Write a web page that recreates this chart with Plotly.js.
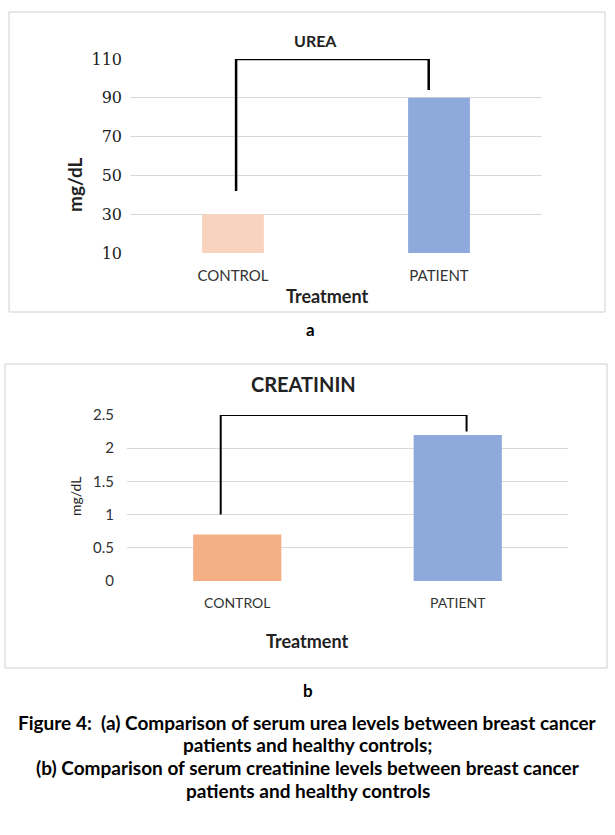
<!DOCTYPE html>
<html><head><meta charset="utf-8">
<script src="https://cdn.plot.ly/plotly-3.0.1.min.js"></script>
<style>html,body{margin:0;padding:0;background:#fff}#chart{width:615px;height:835px}</style>
</head><body><div id="chart"></div>
<script>
const categories = ['CONTROL', 'PATIENT'];
const ureaValues = [30, 90];
const creatininValues = [0.7, 2.2];
const ureaTicks = [10, 30, 50, 70, 90, 110];
const creatininTicks = [0, 0.5, 1, 1.5, 2, 2.5];
const creatininTickLabels = ['0', '0.5', '1', '1.5', '2', '2.5'];
const ureaBracketY = [42, 110, 110, 94];
const creatininBracketY = [1.0, 2.5, 2.5, 2.25];
const captionLines = [
  'Figure 4:  (a) Comparison of serum urea levels between breast cancer',
  'patients and healthy controls;',
  '(b) Comparison of serum creatinine levels between breast cancer',
  'patients and healthy controls'
];

const W = 615, H = 835;
const px = x => x / W, py = y => 1 - y / H;
const sans = 'Lato, "Liberation Sans", sans-serif';
const serif = '"DejaVu Serif", "Liberation Serif", serif';

const traces = [
  {type: 'bar', x: categories, y: ureaValues, xaxis: 'x', yaxis: 'y', width: 0.3,
   marker: {color: ['#F8D3BE', '#8EA9DB']}, hoverinfo: 'none'},
  {type: 'bar', x: categories, y: creatininValues, xaxis: 'x2', yaxis: 'y2', width: 0.4,
   marker: {color: ['#F4AF84', '#8EA9DB']}, hoverinfo: 'none'}
];

function bracket(xref, yref, xl, xr, ys, w) {
  return {type: 'path', xref, yref,
    path: `M ${xl},${ys[0]} L ${xl},${ys[1]} L ${xr},${ys[2]} L ${xr},${ys[3]}`,
    line: {color: '#000', width: w}};
}
function ann(text, x, y, size, extra) {
  return Object.assign({text, xref: 'paper', yref: 'paper', x: px(x), y: py(y),
    xanchor: 'center', yanchor: 'middle', showarrow: false,
    font: {family: sans, size, color: '#222'}}, extra || {});
}

const layout = {
  width: W, height: H, showlegend: false,
  margin: {l: 0, r: 0, t: 0, b: 0},
  paper_bgcolor: '#fff', plot_bgcolor: 'rgba(0,0,0,0)',
  xaxis: {domain: [px(130), px(542)], type: 'category', range: [-0.5, 1.5],
    showgrid: false, zeroline: false, showline: false, ticks: '',
    tickfont: {family: sans, size: 15, color: '#333'}, ticklabelstandoff: 12, fixedrange: true},
  yaxis: {domain: [py(253), py(59)], range: [10, 110], tickvals: ureaTicks,
    showgrid: true, gridcolor: '#d9d9d9', gridwidth: 1, zeroline: false, ticks: '',
    tickfont: {family: serif, size: 16, color: '#222'}, ticklabelstandoff: 7, fixedrange: true},
  xaxis2: {domain: [px(127), px(568)], type: 'category', range: [-0.5, 1.5], anchor: 'y2',
    showgrid: false, zeroline: false, showline: false, ticks: '',
    tickfont: {family: sans, size: 14, color: '#333'}, ticklabelstandoff: 12, fixedrange: true},
  yaxis2: {domain: [py(581), py(415)], range: [0, 2.5], anchor: 'x2',
    tickvals: creatininTicks, ticktext: creatininTickLabels,
    showgrid: true, gridcolor: '#d9d9d9', gridwidth: 1, zeroline: false, ticks: '',
    tickfont: {family: sans, size: 15, color: '#333'}, ticklabelstandoff: 12, fixedrange: true},
  shapes: [
    {type: 'rect', xref: 'paper', yref: 'paper', x0: px(9), x1: px(605), y0: py(312), y1: py(12),
     line: {color: '#d0d0d0', width: 1}, layer: 'below'},
    {type: 'rect', xref: 'paper', yref: 'paper', x0: px(5), x1: px(607), y0: py(668), y1: py(364),
     line: {color: '#d0d0d0', width: 1}, layer: 'below'},
    bracket('x', 'y', 0.015, 0.95, ureaBracketY, 2.5),
    bracket('x2', 'y2', -0.075, 1.04, creatininBracketY, 2)
  ],
  annotations: [
    ann('<b>UREA</b>', 315, 40, 16),
    ann('<b>mg/dL</b>', 75, 185, 19, {textangle: -90}),
    ann('<b>Treatment</b>', 327, 296, 18),
    ann('<b>a</b>', 310, 329, 17, {font: {family: sans, size: 17, color: '#000'}}),
    ann('<b>CREATININ</b>', 303, 384, 20),
    ann('mg/dL', 76, 497, 14, {textangle: -90}),
    ann('<b>Treatment</b>', 307, 641, 18),
    ann('<b>b</b>', 308, 690, 17, {font: {family: sans, size: 17, color: '#000'}}),
    ...captionLines.map((t, i) => ann('<b>' + t + '</b>', 307.5, 722 + i * 22.7, 19,
      {font: {family: sans, size: 19, color: '#000'}}))
  ]
};

Plotly.newPlot('chart', traces, layout, {staticPlot: true, displayModeBar: false});
</script>
</body></html>
